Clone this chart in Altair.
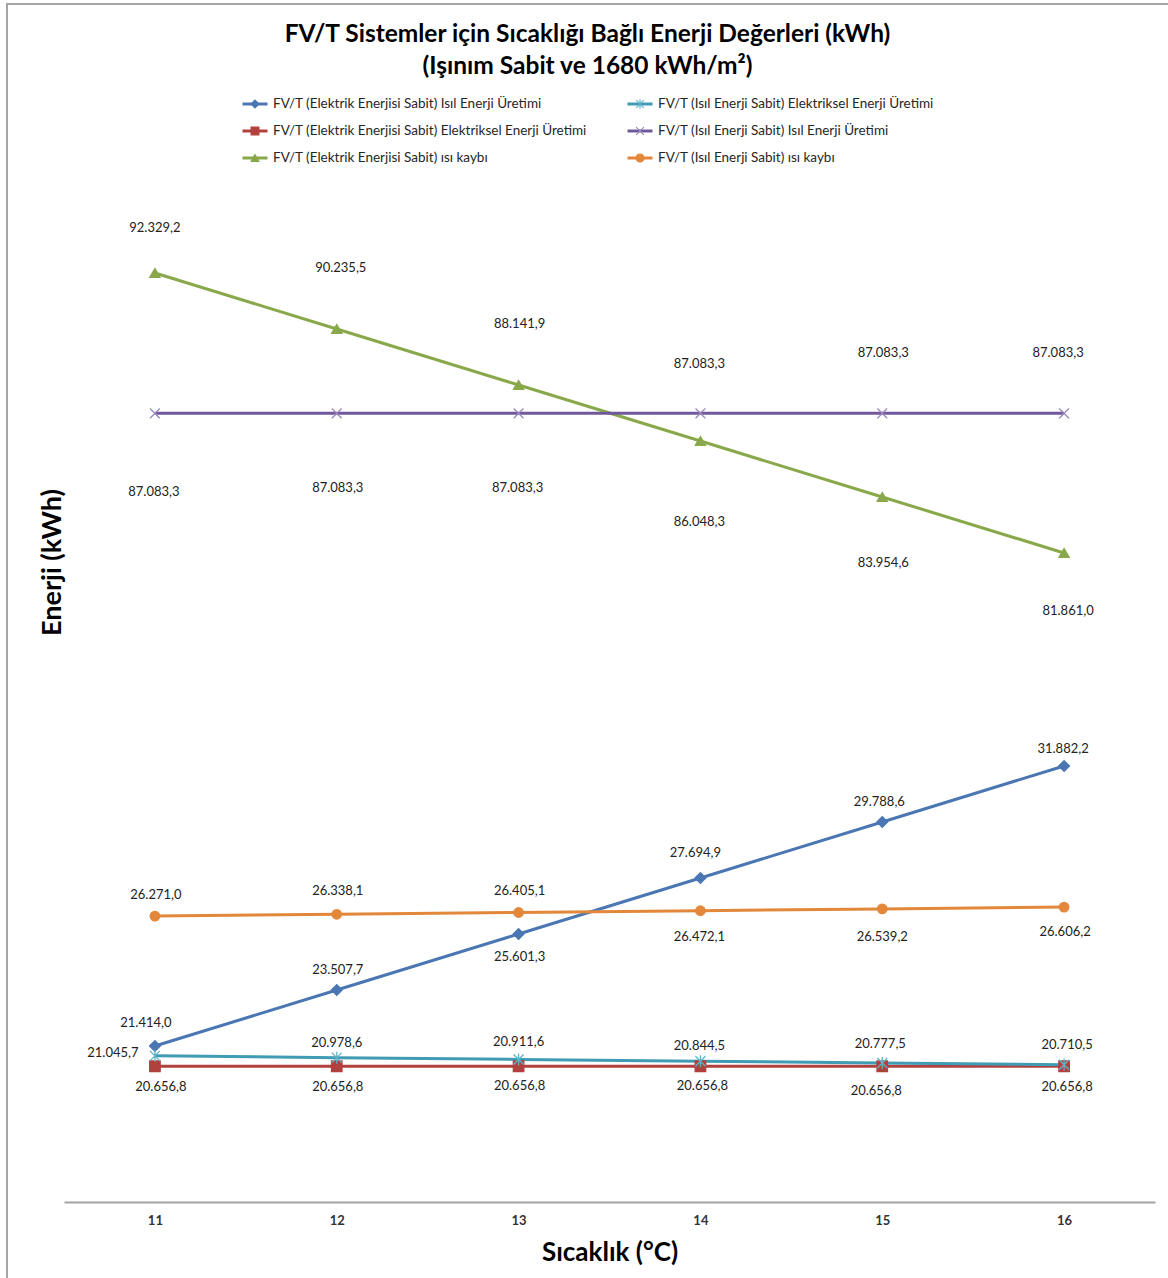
import altair as alt
import pandas as pd

# Temperature categories (°C)
temps = [11, 12, 13, 14, 15, 16]

series_names = [
    "FV/T (Elektrik Enerjisi Sabit) Isıl Enerji Üretimi",
    "FV/T (Elektrik Enerjisi Sabit) Elektriksel Enerji Üretimi",
    "FV/T (Elektrik Enerjisi Sabit) ısı kaybı",
    "FV/T (Isıl Enerji Sabit) Elektriksel Enerji Üretimi",
    "FV/T (Isıl Enerji Sabit) Isıl Enerji Üretimi",
    "FV/T (Isıl Enerji Sabit) ısı kaybı",
]

# Energy values (kWh) per series
elek_isil = [21414.0, 23507.7, 25601.3, 27694.9, 29788.6, 31882.2]
elek_elektriksel = [20656.8, 20656.8, 20656.8, 20656.8, 20656.8, 20656.8]
elek_kayip = [92329.2, 90235.5, 88141.9, 86048.3, 83954.6, 81861.0]
isil_elektriksel = [21045.7, 20978.6, 20911.6, 20844.5, 20777.5, 20710.5]
isil_isil = [87083.3, 87083.3, 87083.3, 87083.3, 87083.3, 87083.3]
isil_kayip = [26271.0, 26338.1, 26405.1, 26472.1, 26539.2, 26606.2]

values = [elek_isil, elek_elektriksel, elek_kayip,
          isil_elektriksel, isil_isil, isil_kayip]

# series plotted against the secondary value axis
secondary = {series_names[2], series_names[4]}

line_colors = ["#4A76B3", "#B0413E", "#88A84A", "#409BB4", "#71589A", "#E3873A"]
marker_colors = ["#4A76B3", "#B0413E", "#88A84A", "#5FB3C9", "#9A89BE", "#E3873A"]
shapes = [
    "diamond",
    "square",
    "triangle-up",
    "M-1,-1L1,1M-1,1L1,-1M0,-1.2L0,1.2",
    "M-1,-1L1,1M-1,1L1,-1",
    "circle",
]
marker_sizes = [115, 90, 110, 95, 110, 150]

# data label placement (pixel offset of each label from its point)
label_offsets = {
    series_names[0]: [(-9, -23), (1, -20), (1, 23), (-5, -25), (-3, -20), (-1, -17)],
    series_names[1]: [(6, 21), (1, 21), (1, 20), (2, 20), (-6, 25), (3, 21)],
    series_names[2]: [(0, -45), (4, -61), (1, -61), (-1, 81), (1, 66), (4, 58)],
    series_names[3]: [(-42, -3), (0, -15), (0, -17), (-1, -15), (-2, -19), (3, -20)],
    series_names[4]: [(-1, 79), (1, 75), (-1, 75), (-1, -49), (1, -60), (-6, -60)],
    series_names[5]: [(1, -21), (1, -23), (1, -21), (-1, 26), (0, 28), (1, 25)],
}


def tr_number(v):
    s = f"{v:,.1f}"
    return s.replace(",", "#").replace(".", ",").replace("#", ".")


rows = []
for name, vals in zip(series_names, values):
    for t, v, (dx, dy) in zip(temps, vals, label_offsets[name]):
        rows.append({
            "series": name, "temp": t, "value": v, "label": tr_number(v),
            "dx": dx, "dy": dy,
        })
df = pd.DataFrame(rows)
df_primary = df[~df["series"].isin(secondary)]
df_secondary = df[df["series"].isin(secondary)]

legend_df = pd.DataFrame({
    "series": series_names,
    "col": [0, 0, 0, 1, 1, 1],
    "row": [0, 1, 2, 0, 1, 2],
})

W, H = 1161, 1274
FONT = "Lato"

color = alt.Color("series:N", scale=alt.Scale(domain=series_names, range=line_colors), legend=None)
mcolor = alt.Stroke("series:N", scale=alt.Scale(domain=series_names, range=marker_colors), legend=None)
fill = alt.Fill("series:N", scale=alt.Scale(domain=series_names, range=marker_colors), legend=None)
shape = alt.Shape("series:N", scale=alt.Scale(domain=series_names, range=shapes), legend=None)
msize = alt.Size("series:N", scale=alt.Scale(domain=series_names, range=marker_sizes), legend=None)

x_scale = alt.Scale(type="point", padding=0.5, range=[57, 1148])
x_axis = alt.Axis(
    orient="bottom", offset=-(H - 1198), domainColor="#a3a3a3", domainWidth=2,
    ticks=False, tickSize=0, grid=False, labelAngle=0,
    labelFont=FONT, labelFontSize=13, labelFontWeight="bold", labelColor="#333333",
    labelPadding=12,
    title="Sıcaklık (°C)", titleFont=FONT, titleFontSize=26, titleFontWeight="bold",
    titleColor="#000000", titlePadding=12,
)
y_axis = alt.Axis(
    domain=False, labels=False, ticks=False, grid=False,
    title="Enerji (kWh)", titleFont=FONT, titleFontSize=27, titleFontWeight="bold",
    titleColor="#000000", titleAngle=270, titleX=45, titleY=558,
    titleAlign="center", titleBaseline="middle",
)


def series_block(data, y_domain, x_axis_def, y_axis_def):
    x = alt.X("temp:O", scale=x_scale, axis=x_axis_def)
    y = alt.Y("value:Q", scale=alt.Scale(domain=y_domain, zero=False, nice=False),
              axis=y_axis_def)
    lines = alt.Chart(data).mark_line(strokeWidth=3).encode(x=x, y=y, color=color)
    points = alt.Chart(data).mark_point(filled=False, strokeWidth=1.3, opacity=1).encode(
        x=x, y=y, stroke=mcolor, fill=fill, shape=shape, size=msize)
    layers = [lines, points]
    # one text layer per label placement
    for (dx, dy), grp in data.groupby(["dx", "dy"]):
        layers.append(
            alt.Chart(grp).mark_text(
                font=FONT, fontSize=13, color="#222222", dx=int(dx), dy=int(dy)
            ).encode(x=x, y=y, text="label:N")
        )
    return alt.layer(*layers)


primary = series_block(df_primary, [12740, 60370], x_axis, y_axis)
secondary_block = series_block(df_secondary, [54756, 102386], None, None)

lx = alt.X("col:Q", scale=alt.Scale(domain=[0, 1], range=[248, 633]), axis=None)
ly = alt.Y("row:Q", scale=alt.Scale(domain=[0, 2], range=[100, 154]), axis=None)
leg_lines = alt.Chart(legend_df).mark_point(
    shape="M-1,0L1,0", size=625, strokeWidth=3, filled=False, opacity=1
).encode(x=lx, y=ly, color=color)
leg_marks = alt.Chart(legend_df).mark_point(size=60, filled=False, strokeWidth=1.2, opacity=1).encode(
    x=lx, y=ly, stroke=mcolor, fill=fill, shape=shape)
leg_text = alt.Chart(legend_df).mark_text(
    align="left", baseline="middle", dx=18, font=FONT, fontSize=13.5, color="#262626"
).encode(x=lx, y=ly, text="series:N")
legend = alt.layer(leg_lines, leg_marks, leg_text)

chart = alt.layer(primary, secondary_block, legend).resolve_scale(
    x="independent", y="independent"
).properties(
    width=W, height=H,
    padding={"left": 7, "top": 4, "right": 0, "bottom": 0},
    autosize=alt.AutoSizeParams(type="none"),
    background="#ffffff",
    title=alt.TitleParams(
        text=["FV/T Sistemler için Sıcaklığı Bağlı Enerji Değerleri (kWh)",
              "(Işınım Sabit ve 1680 kWh/m²)"],
        anchor="middle", frame="group", font=FONT, fontSize=24.5, fontWeight="bold",
        color="#000000", lineHeight=32, offset=0, baseline="alphabetic", dy=94,
    ),
# frame: only the top and left edges of the chart border are stroked
).configure_view(stroke="#a5a5a5", strokeWidth=2, strokeDash=[W, H + W, H])

chart.save("out.html", embed_options={"renderer": "svg", "actions": False})
